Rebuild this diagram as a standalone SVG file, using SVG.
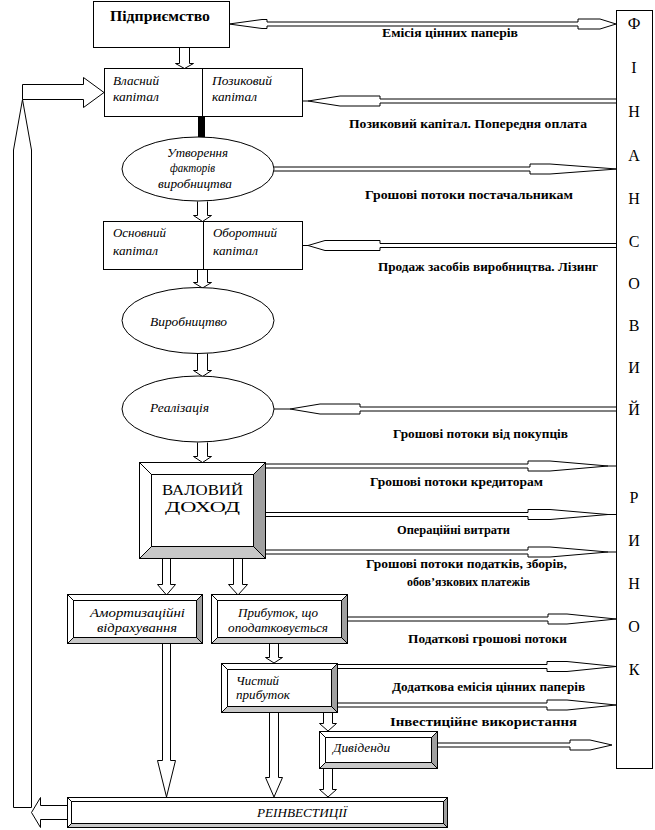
<svg xmlns="http://www.w3.org/2000/svg" width="655" height="830" viewBox="0 0 655 830">
<style>
.bx{fill:#fff;stroke:#000;stroke-width:1}
.ar{fill:#fff;stroke:#000;stroke-width:1}
.ln{fill:none;stroke:#000;stroke-width:1}
.dk{fill:#a0a0a0;stroke:#000;stroke-width:1}
.lt{fill:#c8c8c8;stroke:#000;stroke-width:1}
.lb{font-family:"Liberation Serif",serif;font-weight:bold;font-size:12px;fill:#000}
.it{font-family:"Liberation Serif",serif;font-style:italic;font-size:13px;fill:#000}
.mk{font-family:"Liberation Serif",serif;font-size:16px;text-anchor:middle;fill:#000}
</style>
<rect width="655" height="830" fill="#fff"/>

<g id="connectors">
  <!-- vertical block arrows -->
  <path class="ar" d="M179.5,47.5 V63.5 H175.5 L184.5,68.5 L193.5,63.5 H189.5 V47.5"/>
  <rect x="198" y="116" width="7" height="21" fill="#000"/>
  <path class="ar" d="M197.5,201.5 V215.5 H193.5 L202.5,221.5 L211.5,215.5 H207.5 V201.5"/>
  <path class="ar" d="M197.5,269.5 V282.5 H193.5 L202.5,288 L211.5,282.5 H207.5 V269.5"/>
  <path class="ar" d="M197.5,353.5 V370.5 H193.5 L202.5,376.5 L211.5,370.5 H207.5 V353.5"/>
  <path class="ar" d="M197.5,442.5 V456.5 H193.5 L202.5,462.5 L211.5,456.5 H207.5 V442.5"/>
  <path class="ar" d="M162.5,558.5 V584.5 H157.5 L166.5,595 L175.5,584.5 H170.5 V558.5"/>
  <path class="ar" d="M233.5,558.5 V584.5 H228.5 L238,595 L247.5,584.5 H242.5 V558.5"/>
  <path class="ar" d="M269.5,643.5 V657.5 H265.5 L274,663 L282.5,657.5 H278.5 V643.5"/>
  <path class="ar" d="M162.5,643.5 V760.5 H157.5 L166.5,797 L175.5,760.5 H170.5 V643.5"/>
  <path class="ar" d="M269.5,712.5 V777.5 H265.5 L274,797 L282.5,777.5 H278.5 V712.5"/>
  <path class="ar" d="M323.5,712.5 V723.5 H319.5 L328,731 L336.5,723.5 H332.5 V712.5"/>
  <path class="ar" d="M323.5,768.5 V789.5 H319.5 L328,797 L336.5,789.5 H332.5 V768.5"/>
  <!-- left reinvestment loop -->
  <path class="ar" d="M13.5,807.5 V150 L22.5,99.5 L31.5,150 V807.5 Z"/>
  <path class="ar" d="M22.5,99.5 H83.5 V107.5 L104,92.5 L83.5,77.5 V84.5 H22.5 Z"/>
  <path class="ar" d="M67,805.5 H40.5 V797.5 L31.5,812.5 L40.5,827.5 V819.5 H67"/>
  <!-- horizontal flows to/from financial market -->
  <path class="ar" d="M229,24 L262,19.5 H267 V22 H578 V19 H600 L616,24 L600,29 H578 V26 H267 V28.5 H262 Z"/>
  <path class="ar" d="M616,99 H380 V96 H340 L308,101 L340,106 H380 V103 H616"/>
  <path class="ln" d="M308,101 H302"/>
  <path class="ar" d="M274,167 H530 V164 H550 L617,169 L550,174 H530 V171 H274"/>
  <path class="ar" d="M616,243.5 H380 V240.5 H325 L308,245.5 L325,250.5 H380 V247.5 H616"/>
  <path class="ln" d="M308,245.5 H302"/>
  <path class="ar" d="M616,407 H360 V404 H320 L290,409 L320,414 H360 V411 H616"/>
  <path class="ln" d="M290,409 H274"/>
  <path class="ar" d="M265,464 H528 V461 H550 L608,466 L550,471 H528 V468 H265"/>
  <path class="ln" d="M608,466 H616"/>
  <path class="ar" d="M265,512.5 H528 V509.5 H550 L608,514.5 L550,519.5 H528 V516.5 H265"/>
  <path class="ln" d="M608,514.5 H616"/>
  <path class="ar" d="M265,550 H528 V547 H550 L608,552 L550,557 H528 V554 H265"/>
  <path class="ln" d="M608,552 H616"/>
  <path class="ar" d="M347,617 H548 V614 H567 L616,619 L567,624 H548 V621 H347"/>
  <path class="ar" d="M337,664.5 H547 V661.5 H567 L616,666.5 L567,671.5 H547 V668.5 H337"/>
  <path class="ar" d="M337,703 H547 V700 H567 L616,705 L567,710 H547 V707 H337"/>
  <path class="ar" d="M437,743 H570 V740 H590 L612,745 L590,750 H570 V747 H437"/>
</g>

<g id="market">
  <rect class="bx" x="616.5" y="10.5" width="36" height="758"/>
  <text class="mk" x="634" y="29">Ф</text>
  <text class="mk" x="634" y="73">І</text>
  <text class="mk" x="634" y="117">Н</text>
  <text class="mk" x="634" y="161">А</text>
  <text class="mk" x="634" y="204">Н</text>
  <text class="mk" x="634" y="247">С</text>
  <text class="mk" x="634" y="289">О</text>
  <text class="mk" x="634" y="331">В</text>
  <text class="mk" x="634" y="373">И</text>
  <text class="mk" x="634" y="415">Й</text>
  <text class="mk" x="634" y="503">Р</text>
  <text class="mk" x="634" y="546">И</text>
  <text class="mk" x="634" y="589">Н</text>
  <text class="mk" x="634" y="632">О</text>
  <text class="mk" x="634" y="675">К</text>
</g>

<g id="enterprise">
  <rect class="bx" x="93.5" y="1.5" width="136" height="46"/>
  <text x="110" y="21" textLength="100" lengthAdjust="spacingAndGlyphs" style="font-family:'Liberation Serif',serif;font-weight:bold;font-size:15px">Підприємство</text>
</g>

<g id="capital">
  <rect class="bx" x="104.5" y="68.5" width="198" height="48"/>
  <line class="ln" x1="202.5" y1="68.5" x2="202.5" y2="116.5"/>
  <text class="it" x="113" y="85" textLength="46" lengthAdjust="spacingAndGlyphs">Власний</text>
  <text class="it" x="113" y="101" textLength="46" lengthAdjust="spacingAndGlyphs">капітал</text>
  <text class="it" x="212" y="85" textLength="60" lengthAdjust="spacingAndGlyphs">Позиковий</text>
  <text class="it" x="212" y="101" textLength="45" lengthAdjust="spacingAndGlyphs">капітал</text>
</g>

<g id="factors">
  <ellipse class="bx" cx="198" cy="169" rx="76" ry="32"/>
  <text class="it" x="167" y="157" textLength="61" lengthAdjust="spacingAndGlyphs">Утворення</text>
  <text class="it" x="170" y="172" textLength="45" lengthAdjust="spacingAndGlyphs">факторів</text>
  <text class="it" x="158" y="188" textLength="74" lengthAdjust="spacingAndGlyphs">виробництва</text>
</g>

<g id="assets">
  <rect class="bx" x="103.5" y="221.5" width="199" height="48"/>
  <line class="ln" x1="203.5" y1="221.5" x2="203.5" y2="269.5"/>
  <text class="it" x="113" y="237" textLength="53" lengthAdjust="spacingAndGlyphs">Основний</text>
  <text class="it" x="113" y="255" textLength="45" lengthAdjust="spacingAndGlyphs">капітал</text>
  <text class="it" x="213" y="237" textLength="64" lengthAdjust="spacingAndGlyphs">Оборотний</text>
  <text class="it" x="213" y="255" textLength="45" lengthAdjust="spacingAndGlyphs">капітал</text>
</g>

<g id="production">
  <ellipse class="bx" cx="198" cy="320.5" rx="76" ry="33"/>
  <text class="it" x="150" y="326" textLength="77" lengthAdjust="spacingAndGlyphs">Виробництво</text>
</g>

<g id="sales">
  <ellipse class="bx" cx="198" cy="409" rx="76" ry="33"/>
  <text class="it" x="150" y="412" textLength="59" lengthAdjust="spacingAndGlyphs">Реалізація</text>
</g>

<g id="gross-income">
  <rect class="bx" x="139.5" y="462.5" width="126" height="96"/>
  <polygon class="dk" points="265.5,462.5 265.5,558.5 253.5,546.5 253.5,474.5"/>
  <polygon class="lt" points="139.5,558.5 265.5,558.5 253.5,546.5 151.5,546.5"/>
  <rect class="bx" x="151.5" y="474.5" width="102" height="72"/>
  <line class="ln" x1="139.5" y1="462.5" x2="151.5" y2="474.5"/>
  <line class="ln" x1="139.5" y1="558.5" x2="151.5" y2="546.5"/>
  <text x="162" y="495" textLength="81" lengthAdjust="spacingAndGlyphs" style="font-family:'Liberation Serif',serif;font-size:15px">ВАЛОВИЙ</text>
  <text x="165" y="512" textLength="75" lengthAdjust="spacingAndGlyphs" style="font-family:'Liberation Serif',serif;font-size:15px">ДОХОД</text>
</g>

<g id="depreciation">
  <rect class="bx" x="67.5" y="594.5" width="135" height="49"/>
  <polygon class="dk" points="202.5,594.5 202.5,643.5 196.5,637.5 196.5,600.5"/>
  <polygon class="lt" points="67.5,643.5 202.5,643.5 196.5,637.5 73.5,637.5"/>
  <rect class="bx" x="73.5" y="600.5" width="123" height="37"/>
  <line class="ln" x1="67.5" y1="594.5" x2="73.5" y2="600.5"/>
  <line class="ln" x1="67.5" y1="643.5" x2="73.5" y2="637.5"/>
  <text class="it" x="90" y="617" textLength="95" lengthAdjust="spacingAndGlyphs">Амортизаційні</text>
  <text class="it" x="97" y="632" textLength="80" lengthAdjust="spacingAndGlyphs">відрахування</text>
</g>

<g id="taxable-profit">
  <rect class="bx" x="211.5" y="594.5" width="136" height="49"/>
  <polygon class="dk" points="347.5,594.5 347.5,643.5 341.5,637.5 341.5,600.5"/>
  <polygon class="lt" points="211.5,643.5 347.5,643.5 341.5,637.5 217.5,637.5"/>
  <rect class="bx" x="217.5" y="600.5" width="124" height="37"/>
  <line class="ln" x1="211.5" y1="594.5" x2="217.5" y2="600.5"/>
  <line class="ln" x1="211.5" y1="643.5" x2="217.5" y2="637.5"/>
  <text class="it" x="238" y="617" textLength="80" lengthAdjust="spacingAndGlyphs">Прибуток, що</text>
  <text class="it" x="228" y="632" textLength="100" lengthAdjust="spacingAndGlyphs">оподатковується</text>
</g>

<g id="net-profit">
  <rect class="bx" x="221.5" y="663.5" width="116" height="49"/>
  <polygon class="dk" points="337.5,663.5 337.5,712.5 331.5,706.5 331.5,669.5"/>
  <polygon class="lt" points="221.5,712.5 337.5,712.5 331.5,706.5 227.5,706.5"/>
  <rect class="bx" x="227.5" y="669.5" width="104" height="37"/>
  <line class="ln" x1="221.5" y1="663.5" x2="227.5" y2="669.5"/>
  <line class="ln" x1="221.5" y1="712.5" x2="227.5" y2="706.5"/>
  <text class="it" x="236" y="685" textLength="43" lengthAdjust="spacingAndGlyphs">Чистий</text>
  <text class="it" x="236" y="699" textLength="54" lengthAdjust="spacingAndGlyphs">прибуток</text>
</g>

<g id="dividends">
  <rect class="bx" x="319.5" y="731.5" width="118" height="37"/>
  <polygon class="dk" points="437.5,731.5 437.5,768.5 431.5,762.5 431.5,737.5"/>
  <polygon class="lt" points="319.5,768.5 437.5,768.5 431.5,762.5 325.5,762.5"/>
  <rect class="bx" x="325.5" y="737.5" width="106" height="25"/>
  <line class="ln" x1="319.5" y1="731.5" x2="325.5" y2="737.5"/>
  <line class="ln" x1="319.5" y1="768.5" x2="325.5" y2="762.5"/>
  <text class="it" x="333" y="752" textLength="57" lengthAdjust="spacingAndGlyphs">Дивіденди</text>
</g>

<g id="reinvestment">
  <rect class="bx" x="67.5" y="797.5" width="380" height="30"/>
  <polygon class="dk" points="447.5,797.5 447.5,827.5 443.5,823.5 443.5,801.5"/>
  <polygon class="lt" points="67.5,827.5 447.5,827.5 443.5,823.5 71.5,823.5"/>
  <rect class="bx" x="71.5" y="801.5" width="372" height="22"/>
  <line class="ln" x1="67.5" y1="797.5" x2="71.5" y2="801.5"/>
  <line class="ln" x1="67.5" y1="827.5" x2="71.5" y2="823.5"/>
  <text class="it" x="257" y="817" textLength="90" lengthAdjust="spacingAndGlyphs">РЕІНВЕСТИЦІЇ</text>
</g>

<g id="labels">
  <text class="lb" x="382" y="37" textLength="136" lengthAdjust="spacingAndGlyphs">Емісія цінних паперів</text>
  <text class="lb" x="349" y="128" textLength="238" lengthAdjust="spacingAndGlyphs">Позиковий капітал. Попередня оплата</text>
  <text class="lb" x="365" y="199" textLength="208" lengthAdjust="spacingAndGlyphs">Грошові потоки постачальникам</text>
  <text class="lb" x="378" y="271" textLength="220" lengthAdjust="spacingAndGlyphs">Продаж засобів виробництва. Лізинг</text>
  <text class="lb" x="393" y="438" textLength="175" lengthAdjust="spacingAndGlyphs">Грошові потоки від покупців</text>
  <text class="lb" x="370" y="486" textLength="173" lengthAdjust="spacingAndGlyphs">Грошові потоки кредиторам</text>
  <text class="lb" x="397" y="534" textLength="113" lengthAdjust="spacingAndGlyphs">Операційні витрати</text>
  <text class="lb" x="366" y="568" textLength="201" lengthAdjust="spacingAndGlyphs">Грошові потоки податків, зборів,</text>
  <text class="lb" x="407" y="586" textLength="123" lengthAdjust="spacingAndGlyphs">обов’язкових платежів</text>
  <text class="lb" x="408" y="643" textLength="159" lengthAdjust="spacingAndGlyphs">Податкові грошові потоки</text>
  <text class="lb" x="392" y="691" textLength="193" lengthAdjust="spacingAndGlyphs">Додаткова емісія цінних паперів</text>
  <text class="lb" x="390" y="726" textLength="187" lengthAdjust="spacingAndGlyphs">Інвестиційне використання</text>
</g>
</svg>
